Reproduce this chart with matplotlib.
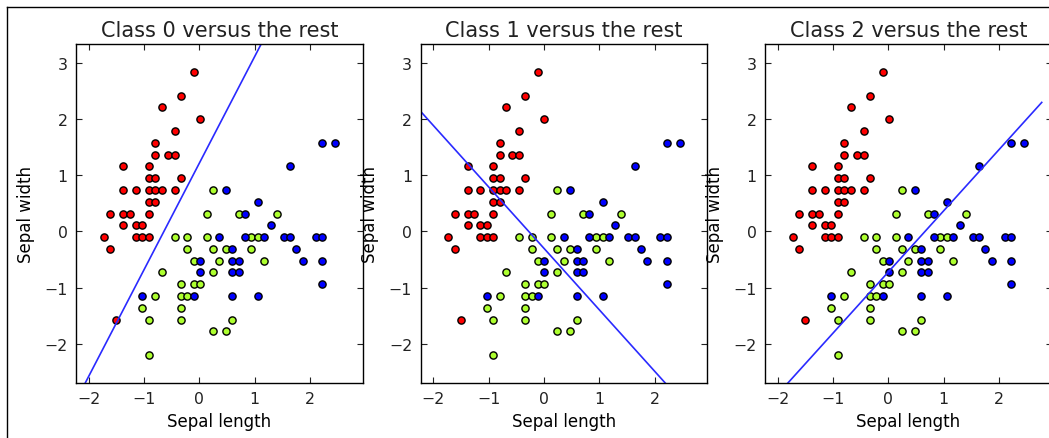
import numpy as np
import matplotlib
matplotlib.use("Agg")
import matplotlib.pyplot as plt
from matplotlib.lines import Line2D

# standardized sepal length / width of the training points, per class
red_x=[-0.10,-0.34,-0.68,0.01,-0.45,-0.80,-0.80,-0.57,-0.45,-1.38,-0.92,-0.92,-0.80,-0.34,
       -1.38,-1.15,-0.92,-0.80,-0.68,-0.45,-0.92,-0.80,-1.61,-1.38,-1.26,-0.92,-1.38,-1.15,
       -1.03,-1.73,-1.15,-1.03,-0.92,-1.61,-1.50]
red_y=[2.84,2.42,2.21,2.00,1.79,1.58,1.37,1.37,1.37,1.16,1.16,0.95,0.95,0.95,
       0.74,0.74,0.74,0.74,0.74,0.74,0.53,0.53,0.32,0.32,0.32,0.32,0.11,0.11,
       0.11,-0.10,-0.10,-0.10,-0.10,-0.31,-1.57]

green_x=[0.24,0.13,0.71,1.40,-0.45,-0.22,0.13,0.94,1.06,-0.22,0.24,0.48,0.94,-0.10,0.36,1.17,
         -0.68,0.24,-0.34,-0.10,0.01,-0.80,-0.34,-0.22,-1.03,-0.34,-0.92,-0.34,0.59,0.24,0.48,-0.92]
green_y=[0.74,0.32,0.32,0.32,-0.10,-0.10,-0.10,-0.10,-0.10,-0.31,-0.31,-0.31,-0.31,-0.52,-0.52,-0.52,
         -0.73,-0.73,-0.94,-0.94,-0.94,-1.15,-1.15,-1.15,-1.36,-1.36,-1.57,-1.57,-1.57,-1.78,-1.78,-2.20]

blue_x=[0.48,1.06,0.82,1.29,0.36,0.82,1.17,1.52,1.64,2.10,2.22,0.59,1.75,0.01,0.59,0.71,1.87,
        2.22,0.01,0.59,0.71,2.22,-1.03,-0.10,0.59,1.06,1.64,2.22,2.45]
blue_y=[0.74,0.53,0.32,0.11,-0.10,-0.10,-0.10,-0.10,-0.10,-0.10,-0.10,-0.31,-0.31,-0.52,-0.52,-0.52,-0.52,
        -0.52,-0.73,-0.73,-0.73,-0.94,-1.15,-1.15,-1.15,-1.15,1.16,1.58,1.58]

# one-vs-rest decision lines: y = slope*x + intercept
line_slope=[1.90,-1.095,1.09]
line_intercept=[1.22,-0.30,-0.72]

classes=[0,1,2]
colors=["red","greenyellow","blue"]

def main():
    plt.rcParams["font.family"]="DejaVu Sans"
    plt.rcParams["text.color"]="#222222"
    plt.rcParams["xtick.color"]="#222222"
    plt.rcParams["ytick.color"]="#222222"
    fig=plt.figure(figsize=(10.49,4.39),dpi=100)

    all_x=red_x+green_x+blue_x
    all_y=red_y+green_y+blue_y
    x_min,x_max=min(all_x)-.5,max(all_x)+.5
    y_min,y_max=min(all_y)-.5,max(all_y)+.5
    xs=np.arange(x_min,x_max,0.5)

    W,H=1049.0,439.0
    for i in classes:
        left=76+344.5*i
        ax=fig.add_axes([left/W,(H-384)/H,286.7/W,339/H])
        for cx,cy,c in zip([red_x,green_x,blue_x],[red_y,green_y,blue_y],colors):
            ax.scatter(cx,cy,c=c,s=27,edgecolors="black",linewidths=1,zorder=1)
        ax.plot(xs,line_slope[i]*xs+line_intercept[i],color="#2a2aff",lw=1.2,zorder=2)
        ax.set_xlim(x_min,x_max)
        ax.set_ylim(y_min,y_max)
        ax.set_xticks([-2,-1,0,1,2])
        ax.set_yticks([-2,-1,0,1,2,3])
        ax.tick_params(direction="in",top=True,right=True,length=4,labelsize=11.3,pad=6)
        ax.set_title("Class %d versus the rest"%i,fontsize=15)
        ax.set_xlabel("Sepal length",fontsize=12)
        ax.set_ylabel("Sepal width",fontsize=12,labelpad=7)
        for sp in ax.spines.values():
            sp.set_linewidth(1)

    fig.add_artist(Line2D([7.3/W,1],[1-8.3/H,1-8.3/H],color="black",lw=1))
    fig.add_artist(Line2D([7.3/W,7.3/W],[0,1-8.3/H],color="black",lw=1))

    fig.savefig("out.png",dpi=100)

if __name__=="__main__":
    main()
